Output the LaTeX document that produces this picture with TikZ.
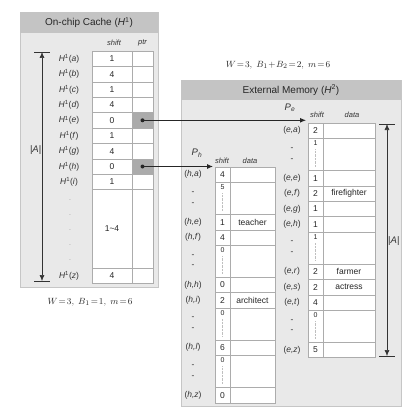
\documentclass[tikz,border=0pt]{standalone}
\usepackage{fontspec}
\setmainfont{Liberation Sans}
\usetikzlibrary{arrows.meta}
\newcommand\tabrow[9]{%
  \draw[cellline,fill=white] (#2,#5) rectangle (#3,#5+#6);
  \draw[cellline,fill=white] (#3,#5) rectangle (#4,#5+#6);
  \node[lbl] at (#1,#5+#6/2) {(\textit{#7})};
  \node[num] at ({(#2+#3)/2},#5+#6/2) {#8};
  \node[num] at ({(#3+#4)/2},#5+#6/2) {#9};
}
\newcommand\tabgap[7]{%
  \draw[cellline,fill=white] (#2,#5) rectangle (#3,#5+#6);
  \draw[cellline,fill=white] (#3,#5) rectangle (#4,#5+#6);
  \node[num,font=\fontsize{7}{7}\selectfont] at ({(#2+#3)/2},#5+5) {#7};
  \node[lbl] at (#1,#5+#6/3) {-};
  \node[lbl] at (#1,#5+2*#6/3) {-};
  \draw[gray!50,densely dotted] ({(#2+#3)/2},#5+11) -- ({(#2+#3)/2},#5+#6-3);
}
\begin{document}
\begin{tikzpicture}[x=1pt,y=-1pt,
  panel/.style={fill=gray!17,draw=gray!45,line width=0.4pt},
  band/.style={fill=gray!46,draw=none},
  cellline/.style={draw=gray!65,line width=0.4pt},
  lbl/.style={font=\fontsize{8.5}{8.5}\selectfont,text=black!80,inner sep=0pt},
  num/.style={font=\fontsize{8.5}{8.5}\selectfont,text=black!85,inner sep=0pt},
  hdr/.style={font=\fontsize{7.5}{7.5}\selectfont\itshape,text=black!80,inner sep=0pt},
  ttl/.style={font=\fontsize{10}{10}\selectfont,text=black!85,inner sep=0pt},
  captxt/.style={font=\fontsize{9.5}{9.5}\selectfont,text=black!85,inner sep=0pt},
  ptrcell/.style={fill=gray!66,draw=gray!65,line width=0.4pt,minimum width=21pt,minimum height=15.4pt,inner sep=0pt},
  conn/.style={line width=0.9pt,black!85,-{Latex[length=6pt,width=5pt]}},
  dimline/.style={line width=0.6pt,black!80,{Latex[length=6pt,width=5pt]}-{Latex[length=6pt,width=5pt]}},
  tickline/.style={line width=0.6pt,black!80}]
\useasboundingbox[fill=white] (0,0) rectangle (409,409);

% ---------- left panel ----------
\fill[panel] (20,12) rectangle (158,287);
\fill[band] (20,12) rectangle (158,33);
\node[ttl] (ttlL) at (89,22.5) {On-chip Cache (\textit{H}\textsuperscript{1})};
\node[hdr] (hshiftL) at (114,43) {shift};
\node[hdr] (hptrL) at (142.5,43) {ptr};
\foreach \lab/\val [count=\i from 0] in {a/1,b/4,c/1,d/4,e/0,f/1,g/4,h/0,i/1}{
  \pgfmathsetmacro\yt{51+15.4*\i}
  \draw[cellline,fill=white] (92,\yt) rectangle (132,\yt+15.4);
  \draw[cellline,fill=white] (132,\yt) rectangle (153,\yt+15.4);
  \node[lbl] (L\lab) at (69,\yt+7.7) {\textit{H}\textsuperscript{1}(\textit{\lab})};
  \node[num] at (112,\yt+7.7) {\val};
}
\draw[cellline,fill=white] (92,189.6) rectangle (132,268);
\draw[cellline,fill=white] (132,189.6) rectangle (153,268);
\node[num] (range) at (112,229) {1\textasciitilde4};
\foreach \yy in {200,215,230,245,260}{\node[lbl,text=gray!60] at (70,\yy) {.};}
\draw[cellline,fill=white] (92,268) rectangle (132,283.4);
\draw[cellline,fill=white] (132,268) rectangle (153,283.4);
\node[lbl] (Lz) at (69,275.7) {\textit{H}\textsuperscript{1}(\textit{z})};
\node[num] at (112,275.7) {4};
\node[ptrcell] (ptre) at (142.5,120.3) {};
\node[ptrcell] (ptrh) at (142.5,166.5) {};

% left |A|
\coordinate (lAt) at (42,52);
\coordinate (lAb) at (42,281);
\draw[tickline] (34,52) -- (50,52);
\draw[tickline] (34,281) -- (50,281);
\draw[dimline] (lAt) -- (lAb);
\node[lbl,anchor=east,font=\fontsize{9.5}{9.5}\selectfont] (lAlab) at (41.5,150) {|\textit{A}|};

\node[captxt] (capL) at (90,302) {$W\!=\!3,\ B_1\!=\!1,\ m\!=\!6$};

% ---------- right panel ----------
\node[captxt] (capR) at (278,65) {$W\!=\!3,\ B_1\!+\!B_2\!=\!2,\ m\!=\!6$};
\fill[panel] (181,80) rectangle (401,406);
\fill[band] (181,80) rectangle (401,100);
\node[ttl] (ttlR) at (291,90) {External Memory (\textit{H}\textsuperscript{2})};

% P_h table
\node[lbl,font=\fontsize{9.5}{9.5}\selectfont\itshape] (Ph) at (197,153) {P\textsubscript{h}};
\node[hdr] at (222,161) {shift};
\node[hdr] at (250,161) {data};
\tabrow{193}{215}{230}{275}{167}{15.4}{h,a}{4}{}
\tabgap{193}{215}{230}{275}{182.4}{32}{5}
\tabrow{193}{215}{230}{275}{214.4}{15.4}{h,e}{1}{teacher}
\tabrow{193}{215}{230}{275}{229.8}{15.4}{h,f}{4}{}
\tabgap{193}{215}{230}{275}{245.2}{32}{0}
\tabrow{193}{215}{230}{275}{277.2}{15.4}{h,h}{0}{}
\tabrow{193}{215}{230}{275}{292.6}{15.4}{h,i}{2}{architect}
\tabgap{193}{215}{230}{275}{308}{32}{0}
\tabrow{193}{215}{230}{275}{340}{15.4}{h,l}{6}{}
\tabgap{193}{215}{230}{275}{355.4}{32}{0}
\tabrow{193}{215}{230}{275}{387.4}{15.4}{h,z}{0}{}

% P_e table
\node[lbl,font=\fontsize{9.5}{9.5}\selectfont\itshape] (Pe) at (290,108) {P\textsubscript{e}};
\node[hdr] at (317,115) {shift};
\node[hdr] at (352,115) {data};
\tabrow{292}{308}{323}{375}{123}{15.4}{e,a}{2}{}
\tabgap{292}{308}{323}{375}{138.4}{32}{1}
\tabrow{292}{308}{323}{375}{170.4}{15.4}{e,e}{1}{}
\tabrow{292}{308}{323}{375}{185.8}{15.4}{e,f}{2}{firefighter}
\tabrow{292}{308}{323}{375}{201.2}{15.4}{e,g}{1}{}
\tabrow{292}{308}{323}{375}{216.6}{15.4}{e,h}{1}{}
\tabgap{292}{308}{323}{375}{232}{32}{1}
\tabrow{292}{308}{323}{375}{264}{15.4}{e,r}{2}{farmer}
\tabrow{292}{308}{323}{375}{279.4}{15.4}{e,s}{2}{actress}
\tabrow{292}{308}{323}{375}{294.8}{15.4}{e,t}{4}{}
\tabgap{292}{308}{323}{375}{310.2}{32}{0}
\tabrow{292}{308}{323}{375}{342.2}{15.4}{e,z}{5}{}

% right |A|
\coordinate (rAt) at (387,124);
\coordinate (rAb) at (387,356);
\draw[tickline] (379,124) -- (395,124);
\draw[tickline] (379,356) -- (395,356);
\draw[dimline] (rAt) -- (rAb);
\node[lbl,anchor=west,font=\fontsize{9.5}{9.5}\selectfont] (rAlab) at (388,241) {|\textit{A}|};

% connectors
\coordinate (peIn) at (306,120.3);
\coordinate (phIn) at (213,166.5);
\fill[black!85] (ptre.center) circle (2pt);
\fill[black!85] (ptrh.center) circle (2pt);
\draw[conn] (ptre.center) -- (peIn);
\draw[conn] (ptrh.center) -- (phIn);
\end{tikzpicture}
\end{document}
